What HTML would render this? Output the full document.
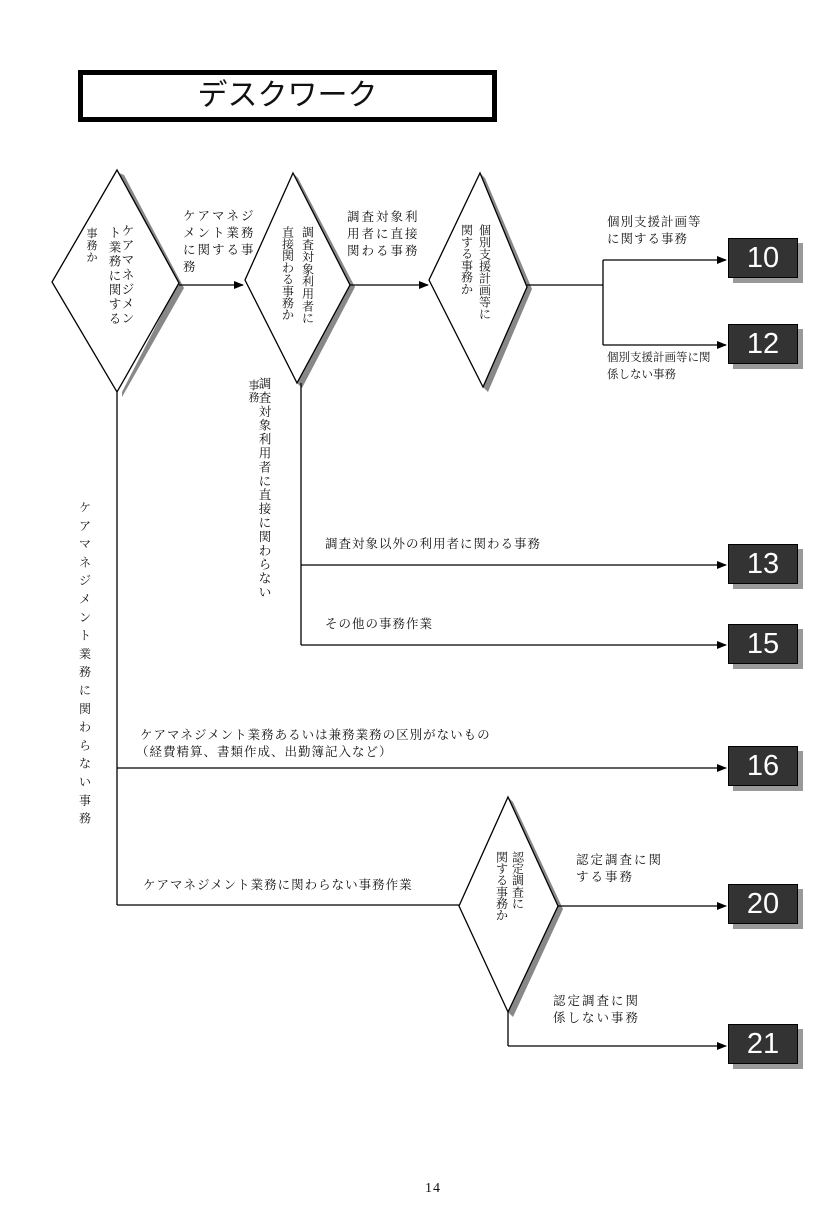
<!DOCTYPE html>
<html><head><meta charset="utf-8"><style>
body{margin:0;background:#fff;}
#c{position:relative;width:840px;height:1216px;overflow:hidden;font-family:"Liberation Serif","Noto Serif CJK SC","Noto Sans CJK JP",serif;color:#111;}
.t{position:absolute;font-size:12.5px;line-height:17px;white-space:nowrap;letter-spacing:1px;}
.n{position:absolute;left:728px;width:70px;height:40px;background:#333;border:1px solid #000;box-sizing:border-box;color:#fff;font-family:"Liberation Sans",sans-serif;font-size:29px;line-height:38px;text-align:center;box-shadow:5px 5px 0 #999;}
svg text{font-family:"Liberation Serif","Noto Serif CJK SC","Noto Sans CJK JP",serif;fill:#111;text-anchor:middle;}
</style></head><body><div id="c">
<div style="position:absolute;left:78px;top:70px;width:419px;height:52px;border:5px solid #000;box-sizing:border-box;text-align:center;font-family:'Liberation Sans','Noto Sans CJK JP',sans-serif;font-size:30px;line-height:42px;">デスクワーク</div>
<svg width="840" height="1216" style="position:absolute;left:0;top:0">
<defs><marker id="a" markerWidth="10" markerHeight="8" refX="9" refY="4" orient="auto" markerUnits="userSpaceOnUse"><path d="M0,0 L10,4 L0,8z" fill="#000"/></marker></defs>
<g fill="#888">
<polygon points="124,175 184,288 122,397 122,392 177,285 117,172"/>
<polygon points="298,178 355,287 302,388 297,383 350,285 293,173"/>
<polygon points="485,178 532,289 488,392 483,387 527,287 480,173"/>
<polygon points="513,802 563,909 513,1017 508,1012 558,906 508,797"/>
</g>
<g fill="#fff" stroke="#000" stroke-width="1.3">
<polygon points="117,170 179,283 117,392 52,282"/>
<polygon points="293,173 350,285 297,383 245,280"/>
<polygon points="480,173 527,287 483,387 429,280"/>
<polygon points="508,797 558,906 508,1012 459,906"/>
</g>
<g stroke="#000" stroke-width="1.3" fill="none">
<line x1="179" y1="285" x2="243" y2="285" marker-end="url(#a)"/>
<line x1="350" y1="285" x2="428" y2="285" marker-end="url(#a)"/>
<line x1="527" y1="285" x2="603" y2="285"/>
<line x1="603" y1="260" x2="603" y2="345"/>
<line x1="603" y1="260" x2="726" y2="260" marker-end="url(#a)"/>
<line x1="603" y1="345" x2="726" y2="345" marker-end="url(#a)"/>
<line x1="301" y1="383" x2="301" y2="645"/>
<line x1="301" y1="565" x2="726" y2="565" marker-end="url(#a)"/>
<line x1="301" y1="645" x2="726" y2="645" marker-end="url(#a)"/>
<line x1="117" y1="392" x2="117" y2="905"/>
<line x1="117" y1="768" x2="726" y2="768" marker-end="url(#a)"/>
<line x1="117" y1="905" x2="459" y2="905"/>
<line x1="558" y1="906" x2="726" y2="906" marker-end="url(#a)"/>
<line x1="508" y1="1012" x2="508" y2="1046"/>
<line x1="508" y1="1046" x2="726" y2="1046" marker-end="url(#a)"/>
</g>
<text font-size="12.5" x="128 128 128 128 128 128 128" y="235 249.6 264.2 278.8 293.4 308 322.6">ケアマネジメン</text>
<text font-size="12.5" x="115 115 115 115 115 115 115" y="237 251.3 265.6 279.9 294.2 308.5 322.8">ト業務に関する</text>
<text font-size="11" x="92 92 92" y="237 249 261">事務か</text>
<text font-size="12" x="308 308 308 308 308 308 308 308" y="236.5 248.8 261.1 273.4 285.7 298 310.3 322.6">調査対象利用者に</text>
<text font-size="12" x="288 288 288 288 288 288 288 288" y="236.5 248.3 260.1 271.9 283.7 295.5 307.3 319.1">直接関わる事務か</text>
<text font-size="12" x="485 485 485 485 485 485 485 485" y="234.5 246.5 258.5 270.5 282.5 294.5 306.5 318.5">個別支援計画等に</text>
<text font-size="12" x="467 467 467 467 467 467" y="234.5 246.3 258.1 269.9 281.7 293.5">関する事務か</text>
<text font-size="12" x="518 518 518 518 518" y="861.5 873.1 884.7 896.3 907.9">認定調査に</text>
<text font-size="12" x="502 502 502 502 502 502" y="861.5 873.1 884.7 896.3 907.9 919.5">関する事務か</text>
<text font-size="12.5" x="265 265 265 265 265 265 265 265 265 265 265 265 265 265 265 265" y="388 401.9 415.8 429.7 443.6 457.5 471.4 485.3 499.2 513.1 527 540.9 554.8 568.7 582.6 596.5">調査対象利用者に直接に関わらない</text>
<text font-size="11" x="254 254" y="389 401">事務</text>
<text font-size="12" x="85 85 85 85 85 85 85 85 85 85 85 85 85 85 85 85 85 85" y="511.5 529.8 548.1 566.4 584.7 603 621.3 639.6 657.9 676.2 694.5 712.8 731.1 749.4 767.7 786 804.3 822.6">ケアマネジメント業務に関わらない事務</text>
</svg>
<div class="n" style="top:238px">10</div>
<div class="n" style="top:324px">12</div>
<div class="n" style="top:544px">13</div>
<div class="n" style="top:624px">15</div>
<div class="n" style="top:746px">16</div>
<div class="n" style="top:884px">20</div>
<div class="n" style="top:1024px">21</div>

<div class="t" style="left:183px;top:208px;letter-spacing:2px;">ケアマネジ</div>
<div class="t" style="left:183px;top:225px;letter-spacing:2px;">メント業務</div>
<div class="t" style="left:183px;top:242px;letter-spacing:2px;">に関する事</div>
<div class="t" style="left:183px;top:259px;letter-spacing:2px;">務</div>
<div class="t" style="left:347px;top:209px;letter-spacing:2px;">調査対象利<br>用者に直接<br>関わる事務</div>
<div class="t" style="left:607px;top:214px;">個別支援計画等<br>に関する事務</div>
<div class="t" style="left:607px;top:350px;font-size:11.5px;letter-spacing:0;">個別支援計画等に関<br>係しない事務</div>
<div class="t" style="left:325px;top:536px;">調査対象以外の利用者に関わる事務</div>
<div class="t" style="left:325px;top:616px;">その他の事務作業</div>
<div class="t" style="left:140px;top:727px;">ケアマネジメント業務あるいは兼務業務の区別がないもの</div>
<div class="t" style="left:136px;top:744px;">（経費精算、書類作成、出勤簿記入など）</div>
<div class="t" style="left:143px;top:877px;">ケアマネジメント業務に関わらない事務作業</div>
<div class="t" style="left:576px;top:852px;letter-spacing:2px;">認定調査に関<br>する事務</div>
<div class="t" style="left:553px;top:993px;letter-spacing:2px;">認定調査に関<br>係しない事務</div>
<div class="t" style="left:425px;top:1180px;font-size:14px;">14</div>
</div></body></html>
